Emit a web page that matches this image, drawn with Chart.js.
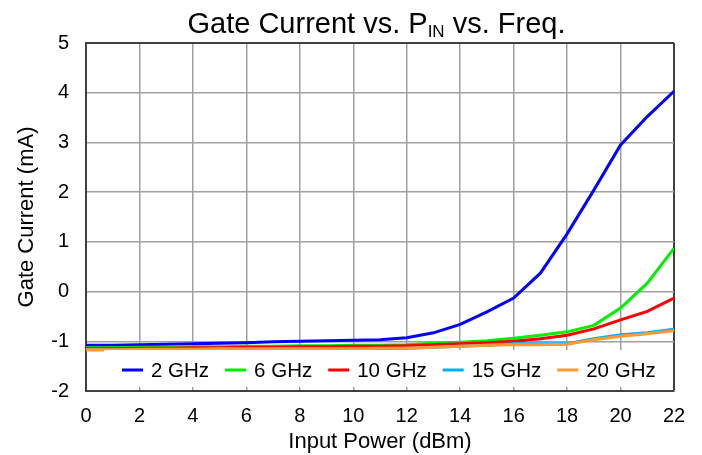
<!DOCTYPE html>
<html>
<head>
<meta charset="utf-8">
<script src="https://cdn.jsdelivr.net/npm/chart.js@4.4.0/dist/chart.umd.min.js"></script>
<style>
html, body { margin: 0; padding: 0; background: #fff; }
#wrap { position: relative; width: 702px; height: 455px; overflow: hidden; }
#title { position: absolute; left: 51px; width: 651px; top: 9px; text-align: center;
  font-family: "Liberation Sans", Arial, sans-serif; font-size: 29px; line-height: 29px; color: #000; white-space: nowrap; }
#title sub { font-size: 17px; vertical-align: -4px; line-height: 0; }
canvas { position: absolute; left: 0; top: 0; }
</style>
</head>
<body>
<div id="wrap">
  <canvas id="c" width="702" height="455"></canvas>
  <div id="title">Gate Current vs. P<sub>IN</sub> vs. Freq.</div>
</div>
<script>
const inputPower = [0,1,2,3,4,5,6,7,8,9,10,11,12,13,14,15,16,17,18,19,20,21,22];
const seriesLabels = ['2 GHz','6 GHz','10 GHz','15 GHz','20 GHz'];
const seriesColors = ['#0000FF','#00EE00','#FF0000','#00B0F0','#FF9933'];
const gate2GHz  = [-1.08,-1.08,-1.07,-1.06,-1.05,-1.04,-1.03,-1.01,-1.00,-0.99,-0.98,-0.97,-0.93,-0.83,-0.66,-0.41,-0.13,0.37,1.16,2.04,2.95,3.52,4.03];
const gate6GHz  = [-1.13,-1.13,-1.12,-1.12,-1.11,-1.11,-1.10,-1.10,-1.09,-1.09,-1.08,-1.08,-1.07,-1.04,-1.02,-0.99,-0.94,-0.88,-0.81,-0.68,-0.33,0.17,0.87];
const gate10GHz = [-1.15,-1.15,-1.14,-1.14,-1.13,-1.13,-1.12,-1.12,-1.11,-1.11,-1.10,-1.10,-1.09,-1.07,-1.05,-1.03,-1.00,-0.95,-0.88,-0.75,-0.57,-0.40,-0.13];
const gate15GHz = [-1.17,-1.17,-1.17,-1.16,-1.16,-1.16,-1.16,-1.15,-1.16,-1.16,-1.16,-1.15,-1.14,-1.12,-1.10,-1.08,-1.05,-1.05,-1.05,-0.95,-0.87,-0.83,-0.76];
const gate20GHz = [-1.17,-1.17,-1.16,-1.16,-1.16,-1.15,-1.15,-1.15,-1.15,-1.15,-1.15,-1.14,-1.14,-1.12,-1.10,-1.08,-1.07,-1.07,-1.06,-0.97,-0.90,-0.85,-0.79];
const allSeries = [gate2GHz, gate6GHz, gate10GHz, gate15GHz, gate20GHz];
const xTickMin = 0, xTickMax = 22, xTickStep = 2;
const yTickMin = -2, yTickMax = 5, yTickStep = 1;

const FONT = '"Liberation Sans", Arial, sans-serif';
const GRID = '#a0a0a0', EDGE = '#404040';

const insideLegend = {
  id: 'insideLegend',
  afterDatasetsDraw(chart) {
    const { ctx, chartArea: a } = chart;
    ctx.save();
    ctx.fillStyle = '#fff';
    ctx.fillRect(a.left + 18, a.bottom - 41, a.right - a.left - 21, 37);
    ctx.font = '20.5px ' + FONT;
    ctx.textBaseline = 'middle';
    ctx.textAlign = 'left';
    let x = a.left + 36;
    const y = a.bottom - 21;
    chart.data.datasets.forEach(ds => {
      ctx.strokeStyle = ds.borderColor;
      ctx.lineWidth = 3;
      ctx.beginPath();
      ctx.moveTo(x, y);
      ctx.lineTo(x + 21, y);
      ctx.stroke();
      ctx.fillStyle = '#000';
      ctx.fillText(ds.label, x + 29, y + 1);
      x += 29 + ctx.measureText(ds.label).width + 16;
    });
    ctx.restore();
  }
};

const datasets = seriesLabels.map((lab, i) => ({
  label: lab,
  data: inputPower.map((p, j) => ({ x: p, y: allSeries[i][j] })),
  borderColor: seriesColors[i],
  backgroundColor: seriesColors[i],
  borderWidth: 3,
  pointRadius: 0,
  tension: 0,
  fill: false,
  order: seriesLabels.length - i
}));

new Chart(document.getElementById('c'), {
  type: 'line',
  data: { datasets },
  plugins: [insideLegend],
  options: {
    responsive: false,
    animation: false,
    devicePixelRatio: 1,
    layout: { padding: { left: 14, right: 28, top: 43, bottom: 0 } },
    plugins: { legend: { display: false }, title: { display: false }, tooltip: { enabled: false } },
    scales: {
      x: {
        type: 'linear', min: xTickMin, max: xTickMax,
        ticks: { stepSize: xTickStep, color: '#000', font: { family: FONT, size: 20 }, padding: 13, maxRotation: 0, autoSkip: false },
        grid: {
          drawTicks: false,
          color: c => (c.tick && c.tick.value === xTickMax) ? EDGE : GRID,
          lineWidth: c => (c.tick && c.tick.value === xTickMax) ? 2 : 1.5
        },
        border: { color: EDGE, width: 2 },
        title: { display: true, text: 'Input Power (dBm)', color: '#000', font: { family: FONT, size: 22 }, padding: { top: 0, bottom: 0 } },
        afterFit: s => { s.height = 64; }
      },
      y: {
        type: 'linear', min: yTickMin, max: yTickMax,
        ticks: { stepSize: yTickStep, color: '#000', font: { family: FONT, size: 20 }, padding: 17 },
        grid: {
          drawTicks: false,
          color: c => (c.tick && c.tick.value === yTickMax) ? EDGE : GRID,
          lineWidth: c => (c.tick && c.tick.value === yTickMax) ? 2 : 1.5
        },
        border: { color: EDGE, width: 2 },
        title: { display: true, text: 'Gate Current (mA)', color: '#000', font: { family: FONT, size: 22 }, padding: 0 },
        afterFit: s => { s.width = 72; }
      }
    }
  }
});
</script>
</body>
</html>
